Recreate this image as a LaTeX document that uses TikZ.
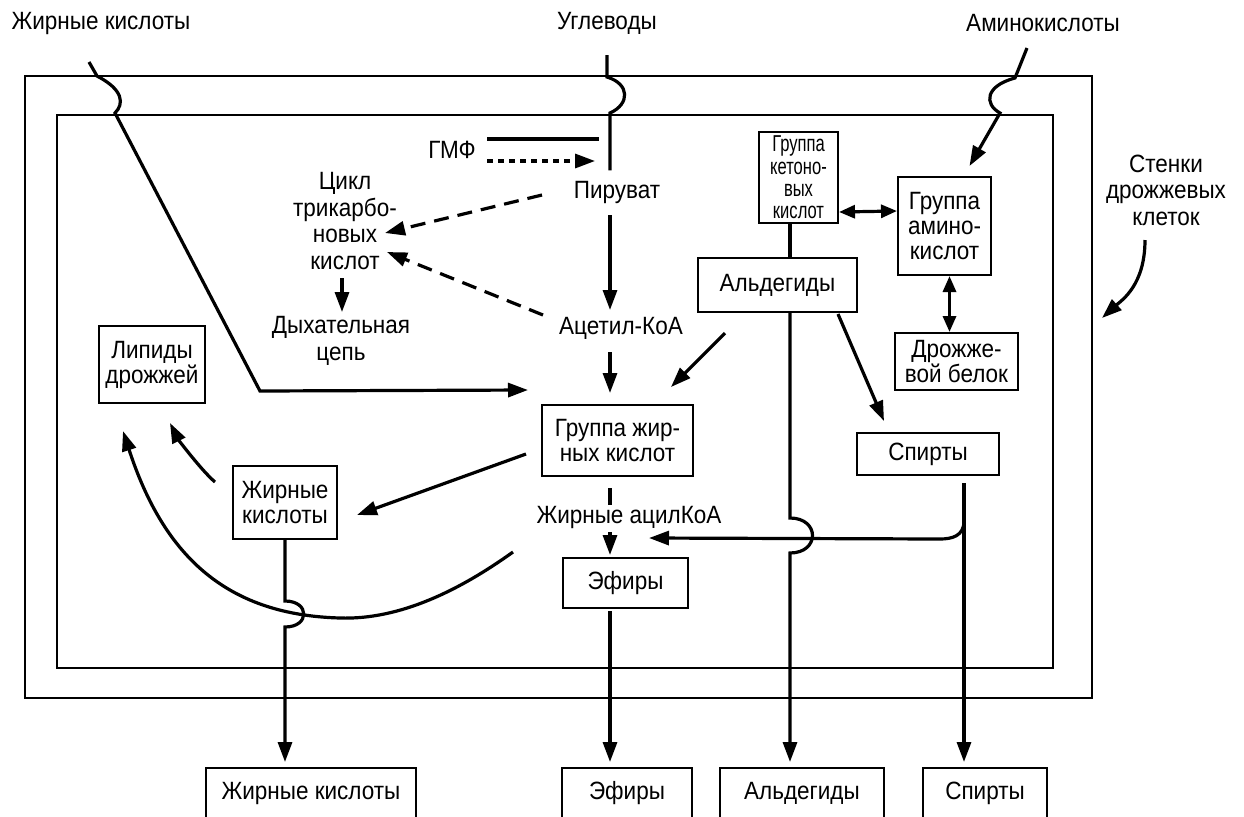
\documentclass[tikz,border=0pt]{standalone}
\usepackage{fontspec}
\setmainfont{Liberation Sans}[FakeStretch=0.9]
\newfontfamily\narrowfont{Liberation Sans}[FakeStretch=0.72]
\usetikzlibrary{calc}
\usetikzlibrary{arrows.meta}

\begin{document}
\begin{tikzpicture}
    [x=0.5pt, y=-0.5pt,
    lbl/.style={align=center, inner sep=2pt, font=\fontsize{12.5}{13.25}\selectfont},
    box/.style={draw, line width=1pt, align=center, inner sep=1pt, font=\fontsize{12.5}{12.5}\selectfont},
    wall/.style={line width=1pt},
    conn/.style={line width=1.6pt},
    arr/.style={conn, -{Triangle[length=10pt,width=7pt]}},
    dasharr/.style={arr, dash pattern=on 7.5pt off 4.5pt},
    dotarr/.style={arr, dash pattern=on 3pt off 2.5pt},
    dbl/.style={conn, {Triangle[length=8pt,width=6.5pt]}-{Triangle[length=8pt,width=6.5pt]}}]
     \useasboundingbox (0,0) rectangle (1244,816);
     % cell walls
     \draw[wall] (25,76) rectangle (1092,698);
     \draw[wall] (57,115) rectangle (1053,668);
     % labels
     \node[lbl] (tfa)    at (101,23)   {Жирные кислоты};
     \node[lbl] (tcarb)  at (607,23)   {Углеводы};
     \node[lbl] (tamino) at (1043,23)  {Аминокислоты};
     \node[lbl] (walls)  at (1166,190) {Стенки\\дрожжевых\\клеток};
     \node[lbl] (gmf)    at (452,150)  {ГМФ};
     \node[lbl] (pyr)    at (617,192)  {Пируват};
     \node[lbl] (acoa)   at (621,328)  {Ацетил-КоА};
     \node[lbl] (tca)    at (345,221)  {Цикл\\трикарбо-\\новых\\кислот};
     \node[lbl] (resp)   at (341,341)  {Дыхательная\\цепь};
     \node[lbl] (acyl)   at (629,517)  {Жирные ацилКоА};
     % boxes
     \node[box, minimum width=53pt, minimum height=38.5pt]   (lip)   at (152,364.5) {Липиды\\дрожжей};
     \node[box, minimum width=75.5pt, minimum height=35.5pt] (grp)   at (617.5,440.5) {Группа жир-\\ных кислот};
     \node[box, minimum width=52pt, minimum height=36.5pt]   (fa)    at (285,502.5) {Жирные\\кислоты};
     \node[box, minimum width=62.5pt, minimum height=25pt]   (est)   at (625.5,583) {Эфиры};
     \node[box, minimum width=39.5pt, minimum height=45.5pt, inner sep=0pt,
           font=\narrowfont\fontsize{11.5}{11.2}\selectfont] (keto) at (798.5,177.5) {Группа\\кетоно-\\вых\\кислот};
     \node[box, minimum width=46.5pt, minimum height=49pt]   (amino) at (944.5,226) {Группа\\амино-\\кислот};
     \node[box, minimum width=79.5pt, minimum height=27pt]   (ald)   at (777.5,285) {Альдегиды};
     \node[box, minimum width=61.5pt, minimum height=28.5pt] (prot)  at (956.5,361.5) {Дрожже-\\вой белок};
     \node[box, minimum width=71pt, minimum height=21pt]     (spir)  at (928,454) {Спирты};
     \node[box, minimum width=105pt, minimum height=25pt]    (bfa)   at (311,793) {Жирные кислоты};
     \node[box, minimum width=65pt, minimum height=25pt]     (best)  at (627,793) {Эфиры};
     \node[box, minimum width=82pt, minimum height=25pt]     (bald)  at (802,793) {Альдегиды};
     \node[box, minimum width=62pt, minimum height=25pt]     (bspir) at (985,793) {Спирты};
     % columns and inputs
     \coordinate (carbcol) at (610,0);
     \coordinate (aldcol)  at (790,0);
     \coordinate (spircol) at (964,0);
     \coordinate (faIn)    at (89,62);
     \coordinate (carbIn)  at (607,55);
     \coordinate (amIn)    at (1027,48);
     % uptake through the walls
     \draw[arr] (faIn) -- (97,76) .. controls (124,90) and (124,104) .. (115,113) -- (260,391)
          -- ($(grp.north west)+(-13,-14)$);
     \draw[conn] (carbIn) -- (607,77) .. controls (630,84) and (630,104) .. (610,113)
          -- ($(pyr.north -| carbcol)+(0,-6)$);
     \draw[arr] (amIn) -- (1015,78) .. controls (985,86) and (984,104) .. (1000,113)
          -- ($(amino.north)+(25,-10)$);
     % carbohydrates
     \draw[conn] ($(gmf.east)+(7,-11)$) -- ++(112,0);
     \draw[dotarr] ($(gmf.east)+(7,11)$) -- ++(108,0);
     \draw[dasharr] ($(pyr.center)+(-75,3)$) -- ($(tca.center)+(40,12)$);
     \draw[dasharr] ($(acoa.center)+(-78,-13)$) -- ($(tca.center)+(42,31)$);
     \draw[arr] ($(tca.center)+(-3,57)$) -- ($(resp.center)+(1,-29)$);
     \draw[arr] ($(pyr.center -| carbcol)+(0,23)$) -- ($(acoa.center -| carbcol)+(0,-18)$);
     \draw[arr] ($(acoa.center -| carbcol)+(0,24)$) -- ($(grp.north -| carbcol)+(0,-11)$);
     % fatty acids
     \draw[arr] ($(ald.south)+(-52.5,20)$) -- ($(grp.north)+(53.5,-17)$);
     \draw[arr] ($(grp.west)+(-15,13.5)$) -- ($(fa.east)+(19,12.5)$);
     \draw[arr] ($(fa.west)+(-17,-20.5)$) .. controls +(-14,-12) and +(8,16) .. ($(lip.south)+(18,19)$);
     \draw[arr] ($(acyl.center)+(-116,35)$) .. controls (460,590) and (400,620) .. (340,618)
          .. controls (230,615) and (165,560) .. ($(lip.south)+(-29,27)$);
     \draw[arr] (fa.south) -- ++(0,61) .. controls +(25,0) and +(25,0) .. ++(0,26)
          -- ($(bfa.north -| fa.south)+(0,-5)$);
     % esters
     \draw[conn] ($(grp.south -| carbcol)+(0,11)$) -- ($(acyl.center -| carbcol)+(0,-12)$);
     \draw[arr] ($(acyl.center -| carbcol)+(0,15)$) -- ($(est.north -| carbcol)+(0,-2)$);
     \draw[arr] ($(est.south -| carbcol)+(0,2)$) -- ($(best.north -| carbcol)+(0,-5)$);
     % amino acids, aldehydes, alcohols
     \draw[dbl] ($(keto.south east)+(0,-12)$) -- ($(amino.west)+(0,-15)$);
     \draw[dbl] ($(amino.south)+(5,0)$) -- ($(amino.south |- prot.north)+(5,0)$);
     \draw[conn] (keto.south -| aldcol) -- (ald.north -| aldcol);
     \draw[arr] (ald.south -| aldcol) -- ++(0,205) .. controls +(30,0) and +(30,0) .. ++(0,35)
          -- ($(bald.north -| aldcol)+(0,-5)$);
     \draw[arr] ($(ald.south east)+(-20,1)$) -- ($(spir.north west)+(28,-11)$);
     \draw[arr] ($(spir.south -| spircol)+(0,7)$) -- ($(bspir.north -| spircol)+(0,-5)$);
     \draw[arr] ($(spir.south -| spircol)+(0,45)$) .. controls +(0,15) and +(12,0) .. ++(-24,18)
          -- ($(acyl.center)+(20,21)$);
     \draw[arr] ($(walls.center)+(-21,50)$) .. controls +(0,45) and +(20,-18) .. ($(walls.center)+(-64,128)$);
\end{tikzpicture}
\end{document}
